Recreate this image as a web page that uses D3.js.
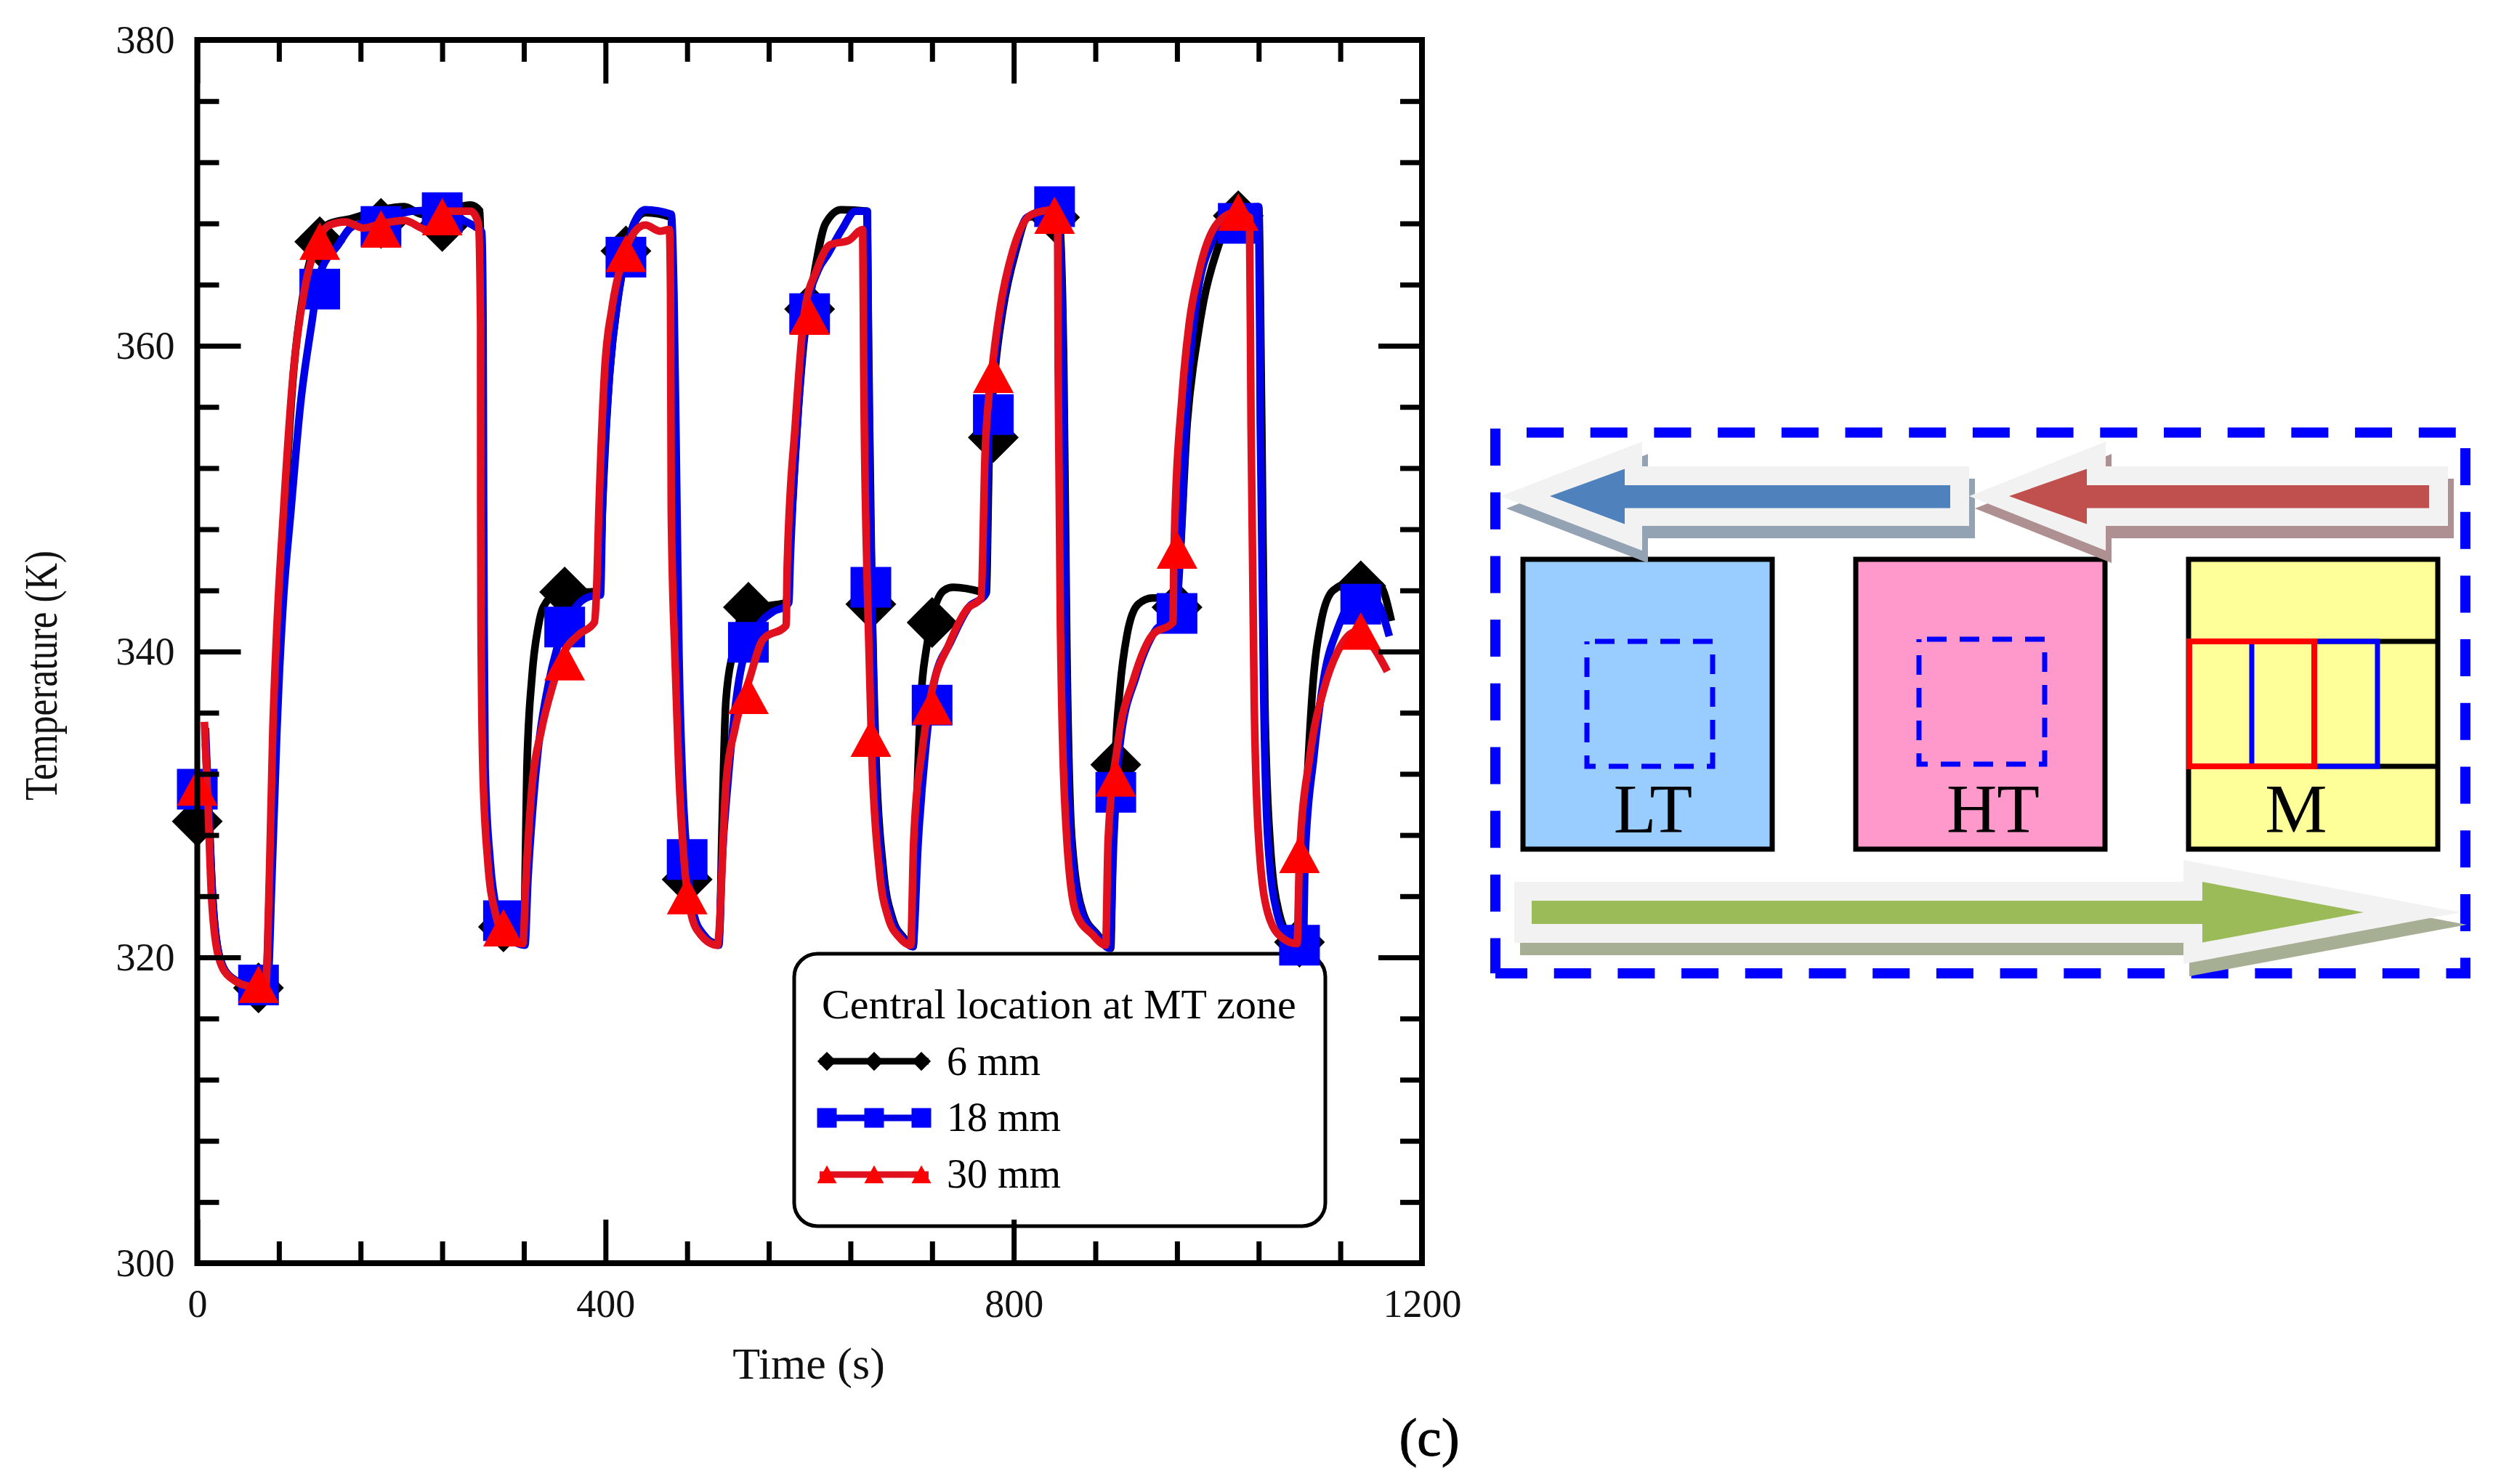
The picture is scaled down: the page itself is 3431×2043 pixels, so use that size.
<!DOCTYPE html>
<html>
<head>
<meta charset="utf-8">
<script src="https://cdnjs.cloudflare.com/ajax/libs/d3/7.8.5/d3.min.js"></script>
<style>
  html, body { margin: 0; padding: 0; background: #fff; }
  svg { display: block; }
</style>
</head>
<body>
<div id="chart"></div>
<script>
const seriesNames = ["6 mm", "18 mm", "30 mm"];
const legendTitle = "Central location at MT zone";
const xMajorTicks = [0, 400, 800, 1200];
const xMinorTicks = [80, 160, 240, 320, 480, 560, 640, 720, 880, 960, 1040, 1120];
const yMajorTicks = [300, 320, 340, 360, 380];
const yMinorTicks = [304, 308, 312, 316, 324, 328, 332, 336, 344, 348, 352, 356, 364, 368, 372, 376];

const markerTimes = [0, 60, 120, 180, 240, 300, 360, 420, 480, 540, 600, 660, 720, 780, 840, 900, 960, 1020, 1080, 1140];
const markers6 = [328.9, 318.0, 366.8, 368.0, 367.8, 322.0, 343.9, 366.2, 325.1, 342.9, 362.4, 343.1, 341.9, 354.0, 368.4, 332.6, 342.9, 368.5, 321.0, 344.3];
const markers18 = [331.0, 318.2, 363.7, 367.8, 368.7, 322.4, 341.6, 365.8, 326.4, 340.6, 362.1, 344.2, 336.5, 355.5, 369.1, 330.8, 342.5, 368.0, 320.8, 343.1];
const markers30 = [331.1, 318.2, 366.8, 367.6, 368.4, 321.9, 339.3, 366.0, 324.0, 337.1, 361.9, 334.3, 336.4, 358.1, 368.5, 331.7, 346.6, 368.7, 326.7, 341.3];

const time6 = [8, 11, 15, 22, 33, 55, 67, 71, 76, 80, 86, 94, 104, 116, 130, 150, 180, 203, 220, 245, 268, 277, 278.5, 279, 280, 281, 286, 293, 302, 320, 321.5, 323, 328, 334, 339, 355, 384, 394, 397, 403, 412, 420, 428, 439, 464.4, 466, 469, 471, 474, 479, 486, 495, 510, 512, 514, 518, 525, 535, 560, 577, 580, 586, 594, 604.5, 615.6, 631, 656, 658, 661, 665, 672, 681, 692, 701.5, 704, 709, 714, 731.6, 740.6, 768, 773, 776, 782, 789, 802, 814, 843, 845, 849, 852, 857, 868, 882, 895, 897, 899.6, 904, 911, 922, 936, 956, 961, 970, 980, 986, 999, 1013, 1040, 1043, 1046, 1051, 1060, 1072, 1082, 1086, 1092, 1101, 1113, 1135, 1158, 1170];
const temp6 = [334, 330, 324, 320, 318.7, 318.1, 318.0, 325, 334.8, 341, 349.4, 358, 363.5, 366.7, 368, 368.3, 368.9, 369.1, 368.6, 368.9, 369.2, 368.8, 361, 349.4, 342, 332.4, 326.3, 322.9, 321.5, 320.9, 326.3, 332.4, 338.4, 341.6, 342.9, 343.9, 343.9, 344, 349.4, 357.2, 363, 366, 368, 368.7, 368.4, 363.5, 349.4, 339.7, 332.4, 326.3, 322.7, 321.5, 320.9, 322, 328, 336.8, 340, 342.5, 343, 343.2, 346, 353, 360, 364.7, 368, 368.9, 368.8, 358.6, 344, 333.1, 325.9, 322.6, 321.3, 320.7, 327.7, 336.8, 340, 344, 344.2, 343.9, 343.8, 353, 358.6, 362.2, 366.2, 368.4, 368.6, 368, 358.6, 340.4, 327.7, 322.9, 321.5, 320.6, 327, 333.1, 337.5, 341.1, 343.1, 343.5, 343.5, 344.6, 355, 360.5, 362.9, 366.2, 368.4, 369, 354.9, 336.8, 327.7, 322.9, 321.2, 320.7, 329, 336.8, 341.9, 344, 344.6, 344.4, 342];

const time18 = [8, 11, 15, 22, 33, 55, 69, 73, 78, 80, 84, 92, 101, 112, 119.6, 123, 137, 152, 181, 210, 246, 261, 272, 279, 280, 280.5, 281, 282, 287, 294, 303, 321, 324, 329, 334, 344.5, 352, 365, 384.5, 395, 397, 403, 412, 420, 428, 439, 464.4, 467, 470, 472, 475, 480, 487, 496, 511, 514, 520, 532, 548, 564, 577, 579.6, 581, 588, 597, 608, 618, 631.6, 645, 656.6, 657.6, 661, 664, 671, 680, 691, 701, 706.5, 714, 722, 738, 756, 772, 775, 781, 788, 801, 813, 843, 844.5, 848.4, 851, 856, 867, 881, 894, 898, 904, 920, 938, 958, 961, 970, 979, 995, 1010, 1040, 1041.6, 1045, 1049, 1058, 1070, 1083.6, 1085.5, 1094, 1103.7, 1117.4, 1135, 1154, 1168];
const temp18 = [335, 330, 324, 320, 318.7, 318.1, 318.3, 325, 334.8, 338, 343, 349.4, 356.1, 361.4, 364.6, 365.2, 366.5, 367.8, 368.2, 368.8, 368.9, 368.2, 367.8, 367.4, 361.4, 349.4, 342, 332.4, 326.3, 322.9, 321.5, 320.8, 325.1, 330, 333.6, 338, 340.1, 342.3, 343.6, 343.7, 349.4, 357.2, 363, 366, 368, 368.9, 368.6, 363.5, 349.4, 339.7, 332.4, 326.3, 322.7, 321.5, 320.8, 326, 331.5, 338.6, 341.5, 342.6, 343, 343.2, 346, 354.9, 362.2, 364.9, 366, 367.6, 368.8, 368.8, 358.6, 344, 333.1, 325.9, 322.6, 321.3, 320.7, 327.7, 333.9, 338, 340.6, 342.9, 343.7, 353, 358.6, 362.2, 366.2, 368.4, 369, 368, 358.6, 340.4, 327.7, 322.9, 321.5, 320.6, 327.7, 333.9, 338.4, 341.3, 342.4, 344, 356.8, 362.9, 366.9, 368.3, 369.1, 354.9, 336.8, 327.7, 322.9, 321.2, 320.6, 326.6, 333.1, 338.2, 341.5, 343.4, 343.3, 341];

const time30 = [7, 10.5, 14, 21, 32, 54, 67, 70.6, 74, 77.6, 84.7, 94, 104.6, 116, 130, 145, 163, 181, 203, 225, 246, 268, 275.5, 277.6, 277.7, 278, 279.8, 284.6, 292, 301, 319, 322, 328, 337, 348, 359, 373.6, 389, 391, 393.6, 399, 406.4, 417, 428, 439, 453.5, 462.6, 463.7, 464.4, 468, 471.7, 477, 484.4, 493, 509.6, 518, 527, 541, 554.4, 577, 578, 586, 595, 606.6, 620, 638.5, 652, 653, 656.6, 661, 668, 677, 688, 699, 702, 711, 720, 736, 754.5, 768, 772, 779, 786, 799, 818, 839.5, 843, 843.5, 846, 852, 861, 877, 890, 892.5, 901.8, 917.5, 936, 956, 957, 965, 972, 981, 999.4, 1017, 1031, 1032.5, 1035.6, 1040, 1049, 1062.6, 1077.6, 1080, 1090, 1103.7, 1117.4, 1135, 1151, 1166];
const temp30 = [335.4, 330, 323.9, 320, 318.7, 318.1, 318.1, 325.1, 334.8, 341, 349.4, 358.2, 363.5, 366.5, 367.9, 368.1, 367.7, 368, 368.2, 367.6, 368.8, 368.8, 368, 361.4, 349.4, 342, 332.4, 326.3, 322.9, 321.5, 320.9, 325.1, 331.2, 334.8, 337.7, 339.9, 341.1, 341.9, 343.6, 349.4, 358.2, 362.5, 365.7, 367.4, 367.9, 367.5, 367.6, 363.5, 349.4, 339.7, 332.4, 326.3, 322.7, 321.5, 320.8, 331.3, 335, 338.2, 340.8, 341.7, 345.5, 354.9, 362.2, 364.9, 366.6, 366.9, 367.6, 358.6, 344, 333.1, 325.9, 322.6, 321.3, 320.8, 327.7, 333.9, 337.5, 340.4, 342.8, 343.5, 353.1, 358.6, 362.2, 366.2, 368.6, 368.9, 368.4, 358.6, 340.4, 327.7, 322.9, 321.5, 320.8, 327.7, 333.9, 338.2, 341.1, 341.9, 346.6, 356.8, 361.5, 364.7, 368, 368.7, 368.4, 354.9, 336.8, 327.7, 322.9, 321.3, 320.9, 326.6, 333.1, 337.5, 340, 341.3, 340.4, 338.7];

const dims = { width: 3431, height: 2043, left: 271.5, right: 1957, top: 55, bottom: 1739 };
const serif = "'Liberation Serif', 'Times New Roman', serif";
const blue = "#0000ff";

const svg = d3.select("#chart").append("svg")
  .attr("width", dims.width)
  .attr("height", dims.height)
  .attr("viewBox", `0,0,${dims.width},${dims.height}`)
  .attr("font-family", serif);

const xScale = d3.scaleLinear().domain([0, 1200]).range([dims.left, dims.right]);
const yScale = d3.scaleLinear().domain([300, 380]).range([dims.bottom, dims.top]);

// marker shapes, centred on the point
function markerPath(type, s) {
  const h = s / 2;
  if (type === "diamond") return `M0,${-h * 1.25}L${h * 1.25},0L0,${h * 1.25}L${-h * 1.25},0Z`;
  if (type === "square") return `M${-h},${-h}H${h}V${h}H${-h}Z`;
  return `M0,${-h * 0.95}L${h},${h * 0.89}H${-h}Z`;
}

const series = [
  { name: seriesNames[0], times: time6, temps: temp6, marks: markers6, line: "#000000", fill: "#000000", type: "diamond" },
  { name: seriesNames[1], times: time18, temps: temp18, marks: markers18, line: "#0000e6", fill: blue, type: "square" },
  { name: seriesNames[2], times: time30, temps: temp30, marks: markers30, line: "#e0101e", fill: "#ff0000", type: "triangle" }
];

/* legend box goes under the curves */
const legend = svg.append("g");
legend.append("rect")
  .attr("x", 1093).attr("y", 1313)
  .attr("width", 731).attr("height", 375)
  .attr("rx", 32)
  .attr("fill", "none").attr("stroke", "#000").attr("stroke-width", 5);
legend.append("text")
  .attr("x", 1131).attr("y", 1402)
  .attr("font-size", 58)
  .text(legendTitle);

const legendRows = [1461, 1539, 1617];
const legendText = [1480, 1557, 1635];
series.forEach((s, i) => {
  legend.append("line")
    .attr("x1", 1128).attr("x2", 1278)
    .attr("y1", legendRows[i]).attr("y2", legendRows[i])
    .attr("stroke", s.line).attr("stroke-width", 9);
  [1138, 1203, 1268].forEach(mx => {
    legend.append("path")
      .attr("transform", `translate(${mx},${legendRows[i]})`)
      .attr("d", markerPath(s.type, s.type === "diamond" ? 21 : 27))
      .attr("fill", s.fill);
  });
  legend.append("text")
    .attr("x", 1303).attr("y", legendText[i])
    .attr("font-size", 56)
    .text(s.name);
});

/* curves and markers, one series on top of the other */
const line = d3.line()
  .x(d => xScale(d[0]))
  .y(d => yScale(d[1]))
  .curve(d3.curveMonotoneX);

const chartG = svg.append("g").attr("class", "chart");
series.forEach(s => {
  const g = chartG.append("g");
  g.append("path")
    .datum(d3.zip(s.times, s.temps))
    .attr("d", line)
    .attr("fill", "none")
    .attr("stroke", s.line)
    .attr("stroke-width", 10.5)
    .attr("stroke-linejoin", "round");
  g.selectAll("path.mark")
    .data(d3.zip(markerTimes, s.marks))
    .join("path")
      .attr("class", "mark")
      .attr("transform", d => `translate(${xScale(d[0])},${yScale(d[1])})`)
      .attr("d", markerPath(s.type, 56))
      .attr("fill", s.fill);
});

/* axes */
function styleAxis(g) {
  g.select(".domain").remove();
  g.selectAll(".tick line").attr("stroke", "#000").attr("stroke-width", 7);
  g.selectAll(".tick text").attr("fill", "#111");
  g.attr("font-family", serif).attr("font-size", 54);
}

const axes = svg.append("g").attr("class", "axes");
axes.append("g").attr("transform", `translate(0,${dims.bottom})`)
  .call(d3.axisBottom(xScale).tickValues(xMajorTicks).tickSizeInner(-60).tickSizeOuter(0).tickPadding(36).tickFormat(d3.format("d")))
  .call(styleAxis);
axes.append("g").attr("transform", `translate(0,${dims.bottom})`)
  .call(d3.axisBottom(xScale).tickValues(xMinorTicks).tickSizeInner(-30).tickSizeOuter(0).tickFormat(""))
  .call(styleAxis);
axes.append("g").attr("transform", `translate(0,${dims.top})`)
  .call(d3.axisTop(xScale).tickValues(xMajorTicks).tickSizeInner(-60).tickSizeOuter(0).tickFormat(""))
  .call(styleAxis);
axes.append("g").attr("transform", `translate(0,${dims.top})`)
  .call(d3.axisTop(xScale).tickValues(xMinorTicks).tickSizeInner(-30).tickSizeOuter(0).tickFormat(""))
  .call(styleAxis);
axes.append("g").attr("transform", `translate(${dims.left},0)`)
  .call(d3.axisLeft(yScale).tickValues(yMajorTicks).tickSizeInner(-60).tickSizeOuter(0).tickPadding(31).tickFormat(d3.format("d")))
  .call(styleAxis);
axes.append("g").attr("transform", `translate(${dims.left},0)`)
  .call(d3.axisLeft(yScale).tickValues(yMinorTicks).tickSizeInner(-30).tickSizeOuter(0).tickFormat(""))
  .call(styleAxis);
axes.append("g").attr("transform", `translate(${dims.right},0)`)
  .call(d3.axisRight(yScale).tickValues(yMajorTicks).tickSizeInner(-60).tickSizeOuter(0).tickFormat(""))
  .call(styleAxis);
axes.append("g").attr("transform", `translate(${dims.right},0)`)
  .call(d3.axisRight(yScale).tickValues(yMinorTicks).tickSizeInner(-30).tickSizeOuter(0).tickFormat(""))
  .call(styleAxis);
axes.append("rect")
  .attr("x", dims.left).attr("y", dims.top)
  .attr("width", dims.right - dims.left).attr("height", dims.bottom - dims.top)
  .attr("fill", "none").attr("stroke", "#000").attr("stroke-width", 8);

svg.append("text")
  .attr("x", 1113).attr("y", 1898)
  .attr("text-anchor", "middle")
  .attr("font-size", 62)
  .attr("fill", "#111")
  .text("Time (s)");
svg.append("text")
  .attr("transform", "translate(78,930) rotate(-90)")
  .attr("text-anchor", "middle")
  .attr("font-size", 64)
  .attr("textLength", 344)
  .attr("lengthAdjust", "spacingAndGlyphs")
  .attr("fill", "#111")
  .text("Temperature (K)");
svg.append("text")
  .attr("x", 1967).attr("y", 2004)
  .attr("text-anchor", "middle")
  .attr("font-size", 75)
  .attr("stroke", "#000")
  .attr("stroke-width", 1)
  .text("(c)");

/* schematic on the right */
const schematic = svg.append("g").attr("class", "schematic");

// dashed frame, four separate sides so the dashes land as in the figure
const frameSides = [
  [2058, 590, 2058, 1340, 0],
  [3393, 617, 3393, 1347, 0],
  [2101, 595.5, 3380, 595.5, 0],
  [2058, 1340, 3398, 1340, 7]
];
frameSides.forEach(d => {
  schematic.append("line")
    .attr("x1", d[0]).attr("y1", d[1]).attr("x2", d[2]).attr("y2", d[3])
    .attr("stroke", blue).attr("stroke-width", 14)
    .attr("stroke-dasharray", "51 36.7")
    .attr("stroke-dashoffset", d[4]);
});

const boxes = [
  { x: 2096, fill: "#99ccff", label: "LT", labelX: 2275 },
  { x: 2554, fill: "#ff99cc", label: "HT", labelX: 2743 },
  { x: 3012, fill: "#ffff99", label: "M", labelX: 3160 }
];
boxes.forEach(b => {
  schematic.append("rect")
    .attr("x", b.x).attr("y", 770)
    .attr("width", 343).attr("height", 399)
    .attr("fill", b.fill).attr("stroke", "#000").attr("stroke-width", 7);
  schematic.append("text")
    .attr("x", b.labelX).attr("y", 1146)
    .attr("text-anchor", "middle")
    .attr("font-size", 96)
    .text(b.label);
});

[[2184, 883], [2641, 880]].forEach(p => {
  schematic.append("rect")
    .attr("x", p[0]).attr("y", p[1])
    .attr("width", 173).attr("height", 172)
    .attr("fill", "none").attr("stroke", blue).attr("stroke-width", 7)
    .attr("stroke-dasharray", "27 18").attr("stroke-dashoffset", 34);
});

// inside of the M box
[883, 1055].forEach(y => {
  schematic.append("line")
    .attr("x1", 3012).attr("x2", 3355).attr("y1", y).attr("y2", y)
    .attr("stroke", "#000").attr("stroke-width", 7);
});
schematic.append("line")
  .attr("x1", 3099).attr("x2", 3099).attr("y1", 883).attr("y2", 1055)
  .attr("stroke", blue).attr("stroke-width", 7);
schematic.append("path")
  .attr("d", "M3185,883H3272V1055H3185")
  .attr("fill", "none").attr("stroke", blue).attr("stroke-width", 7);
schematic.append("rect")
  .attr("x", 3013).attr("y", 883)
  .attr("width", 172).attr("height", 172)
  .attr("fill", "none").attr("stroke", "#ff0000").attr("stroke-width", 8);

function arrowPoints(a) {
  return [
    [a.tip, a.cy], [a.base, a.headTop], [a.base, a.shaftTop], [a.end, a.shaftTop],
    [a.end, a.shaftBot], [a.base, a.shaftBot], [a.base, a.headBot]
  ].map(p => p.join(",")).join(" ");
}

const arrows = [
  {
    shadow: "#94a3b3", fill: "#4f81bd",
    outer: { tip: 2065, cy: 683, base: 2260, headTop: 608, headBot: 758, shaftTop: 642, shaftBot: 724, end: 2710 },
    inner: { tip: 2133, cy: 683, base: 2236, headTop: 645.5, headBot: 721.5, shaftTop: 668, shaftBot: 699.6, end: 2684 }
  },
  {
    shadow: "#ae9092", fill: "#c0504d",
    outer: { tip: 2710, cy: 683, base: 2898, headTop: 608, headBot: 758, shaftTop: 642, shaftBot: 724, end: 3369 },
    inner: { tip: 2765, cy: 683, base: 2872, headTop: 645.5, headBot: 721.5, shaftTop: 668, shaftBot: 699.6, end: 3343 }
  },
  {
    shadow: "#a6af93", fill: "#9bbb59",
    outer: { tip: 3387, cy: 1256, base: 3005, headTop: 1184, headBot: 1327, shaftTop: 1214, shaftBot: 1298, end: 2084 },
    inner: { tip: 3253, cy: 1256, base: 3031, headTop: 1214, headBot: 1297.6, shaftTop: 1240, shaftBot: 1272, end: 2108 }
  }
];
arrows.forEach(a => {
  schematic.append("polygon")
    .attr("points", arrowPoints(a.outer))
    .attr("transform", "translate(8,17)")
    .attr("fill", a.shadow);
  schematic.append("polygon").attr("points", arrowPoints(a.outer)).attr("fill", "#f2f2f2");
  schematic.append("polygon").attr("points", arrowPoints(a.inner)).attr("fill", a.fill);
});
</script>
</body>
</html>
